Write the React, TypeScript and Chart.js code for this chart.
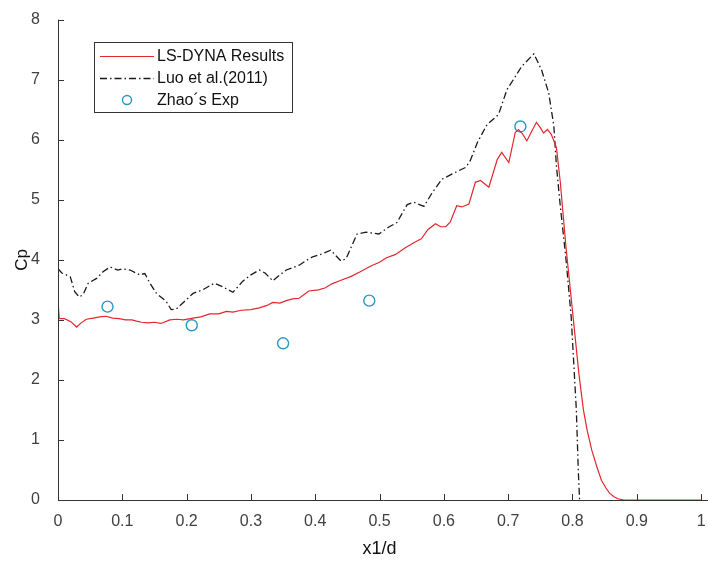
import React, { useEffect, useRef } from "react";
import { Chart, registerables } from "chart.js";

Chart.register(...registerables);

const xTicks = [0, 0.1, 0.2, 0.3, 0.4, 0.5, 0.6, 0.7, 0.8, 0.9, 1];
const yTicks = [0, 1, 2, 3, 4, 5, 6, 7, 8];

const lsDynaX = [
  0, 0.002, 0.01, 0.02, 0.029, 0.036, 0.044, 0.055, 0.065, 0.075, 0.085, 0.095, 0.105, 0.115, 0.122, 0.13,
  0.14, 0.15, 0.16, 0.174, 0.185, 0.195, 0.21, 0.222, 0.236, 0.25, 0.262, 0.272, 0.285, 0.3, 0.313, 0.325,
  0.334, 0.345, 0.355, 0.365, 0.375, 0.39, 0.405, 0.415, 0.426, 0.44, 0.455, 0.47, 0.48, 0.489, 0.5, 0.51,
  0.525, 0.54, 0.556, 0.565, 0.575, 0.587, 0.595, 0.603, 0.61, 0.62, 0.628, 0.639, 0.649, 0.657, 0.67, 0.683,
  0.69, 0.701, 0.711, 0.716, 0.722, 0.729, 0.737, 0.744, 0.75, 0.755, 0.761, 0.767, 0.775, 0.781, 0.79, 0.8,
  0.81, 0.817, 0.823, 0.83, 0.838, 0.845, 0.852, 0.858, 0.865, 0.871, 0.88, 1.0,
];
const lsDynaY = [
  3.3, 3.02, 3.02, 2.97, 2.88, 2.95, 3.01, 3.03, 3.05, 3.06, 3.03, 3.02, 3.0, 3.0, 2.98, 2.96,
  2.95, 2.96, 2.94, 3.0, 3.01, 3.0, 3.03, 3.05, 3.1, 3.1, 3.14, 3.13, 3.16, 3.17, 3.2, 3.24,
  3.29, 3.28, 3.32, 3.35, 3.36, 3.48, 3.5, 3.53, 3.6, 3.66, 3.72, 3.8, 3.86, 3.91, 3.96, 4.03,
  4.09, 4.2, 4.3, 4.35, 4.5, 4.6, 4.55, 4.55, 4.63, 4.9, 4.88, 4.93, 5.29, 5.32, 5.21, 5.67,
  5.79, 5.62, 6.12, 6.17, 6.1, 5.98, 6.15, 6.29, 6.2, 6.11, 6.17, 6.09, 5.87, 5.3, 4.2, 3.15,
  2.1, 1.5, 1.15, 0.83, 0.55, 0.33, 0.2, 0.11, 0.05, 0.02, 0, 0,
];

const luoX = [
  0, 0.006, 0.019, 0.026, 0.033, 0.039, 0.047, 0.06, 0.07, 0.081, 0.093, 0.1, 0.112, 0.127, 0.135, 0.143,
  0.153, 0.168, 0.176, 0.184, 0.197, 0.21, 0.225, 0.243, 0.256, 0.272, 0.287, 0.3, 0.313, 0.322, 0.334, 0.345,
  0.355, 0.375, 0.388, 0.396, 0.406, 0.424, 0.44, 0.448, 0.465, 0.479, 0.499, 0.515, 0.527, 0.543, 0.553, 0.569,
  0.582, 0.597, 0.613, 0.634, 0.641, 0.652, 0.667, 0.685, 0.698, 0.711, 0.721, 0.74, 0.752, 0.763, 0.771, 0.775,
  0.781, 0.79, 0.798, 0.806, 0.809, 0.811,
];
const luoY = [
  3.85, 3.78, 3.72, 3.47, 3.38, 3.42, 3.61, 3.69, 3.8, 3.88, 3.83, 3.85, 3.83, 3.75, 3.77, 3.61,
  3.44, 3.31, 3.17, 3.18, 3.31, 3.44, 3.5, 3.61, 3.55, 3.46, 3.64, 3.75, 3.83, 3.78, 3.65, 3.75,
  3.83, 3.91, 4.0, 4.05, 4.08, 4.16, 3.98, 4.02, 4.43, 4.46, 4.43, 4.55, 4.62, 4.92, 4.96, 4.89,
  5.12, 5.34, 5.43, 5.54, 5.65, 5.95, 6.25, 6.42, 6.83, 7.05, 7.22, 7.43, 7.16, 6.78, 6.23, 5.57,
  4.9, 4.0, 3.05, 1.5, 0.5, 0,
];

const zhaoX = [0.077, 0.208, 0.35, 0.484, 0.719];
const zhaoY = [3.22, 2.91, 2.61, 3.32, 6.22];

const seriesLabels = ["LS-DYNA Results", "Luo et al.(2011)", "Zhao\u00b4s Exp"];

const FONT = "'Liberation Sans', Arial, Helvetica, sans-serif";
const AXIS_COLOR = "#333333";
const TEXT_COLOR = "#404040";
const RED = "#e4262e";
const BLACK = "#1a1a1a";
const BLUE = "#2a97c4";
const DASH = [7, 3, 1.5, 3];

const zip = (xs: number[], ys: number[]) => xs.map((x, i) => ({ x, y: ys[i] }));

const matlabAxes = {
  id: "matlabAxes",
  afterDatasetsDraw(chart: any) {
    const { ctx, chartArea, scales } = chart;
    const xs = scales.x;
    const ys = scales.y;
    ctx.save();
    ctx.strokeStyle = AXIS_COLOR;
    ctx.lineWidth = 1;
    ctx.beginPath();
    ctx.moveTo(chartArea.left + 0.5, chartArea.top);
    ctx.lineTo(chartArea.left + 0.5, chartArea.bottom + 0.5);
    ctx.lineTo(chartArea.right + 10, chartArea.bottom + 0.5);
    for (const t of xTicks) {
      const px = Math.round(xs.getPixelForValue(t)) + 0.5;
      ctx.moveTo(px, chartArea.bottom);
      ctx.lineTo(px, chartArea.bottom - 6);
    }
    for (const t of yTicks) {
      const py = Math.round(ys.getPixelForValue(t)) + 0.5;
      ctx.moveTo(chartArea.left, py);
      ctx.lineTo(chartArea.left + 6, py);
    }
    ctx.stroke();

    // legend
    const bx = 94.5, by = 42.5, bw = 198, bh = 70;
    ctx.fillStyle = "#ffffff";
    ctx.fillRect(bx, by, bw, bh);
    ctx.strokeStyle = AXIS_COLOR;
    ctx.strokeRect(bx, by, bw, bh);
    const rows = [56, 78, 100];
    const ds = chart.data.datasets;
    ctx.font = `16px ${FONT}`;
    ctx.textBaseline = "middle";
    ctx.textAlign = "left";
    ds.forEach((d: any, i: number) => {
      const y = rows[i];
      if (d.showLine) {
        ctx.beginPath();
        ctx.strokeStyle = d.borderColor;
        ctx.lineWidth = d.borderWidth;
        ctx.setLineDash(d.borderDash || []);
        ctx.moveTo(100, y + 0.5);
        ctx.lineTo(154, y + 0.5);
        ctx.stroke();
        ctx.setLineDash([]);
      } else {
        ctx.beginPath();
        ctx.strokeStyle = d.pointBorderColor;
        ctx.lineWidth = d.pointBorderWidth;
        ctx.arc(127, y, 4.5, 0, Math.PI * 2);
        ctx.stroke();
      }
      ctx.fillStyle = "#111111";
      ctx.fillText(d.label, 157, y + 1);
    });
    ctx.restore();
  },
};

export default function App() {
  const ref = useRef<HTMLCanvasElement | null>(null);
  useEffect(() => {
    if (!ref.current) return;
    const chart = new Chart(ref.current, {
      type: "scatter",
      data: {
        datasets: [
          {
            label: seriesLabels[0],
            data: zip(lsDynaX, lsDynaY),
            showLine: true,
            borderColor: RED,
            borderWidth: 1.2,
            pointRadius: 0,
            tension: 0,
          },
          {
            label: seriesLabels[1],
            data: zip(luoX, luoY),
            showLine: true,
            borderColor: BLACK,
            borderWidth: 1.3,
            borderDash: DASH,
            pointRadius: 0,
            tension: 0,
          },
          {
            label: seriesLabels[2],
            data: zip(zhaoX, zhaoY),
            showLine: false,
            pointRadius: 5.5,
            pointBorderWidth: 1.4,
            pointBorderColor: BLUE,
            pointBackgroundColor: "rgba(255,255,255,0)",
            borderColor: BLUE,
            backgroundColor: "rgba(255,255,255,0)",
          },
        ],
      },
      options: {
        animation: false,
        responsive: false,
        layout: { padding: { left: 0, right: 5, top: 16, bottom: 0 } },
        plugins: { legend: { display: false }, tooltip: { enabled: false } },
        scales: {
          x: {
            type: "linear",
            min: 0,
            max: 1,
            afterFit: (s: any) => {
              s.height = 70;
              s.paddingLeft = 0;
              s.paddingRight = 0;
            },
            afterBuildTicks: (s: any) => {
              s.ticks = xTicks.map((v) => ({ value: v }));
            },
            grid: { display: false },
            border: { display: false },
            ticks: {
              padding: 4,
              color: TEXT_COLOR,
              font: { family: FONT, size: 16 },
              maxRotation: 0,
              autoSkip: false,
              callback: (v: any) => String(Number(Number(v).toFixed(1))),
            },
            title: {
              display: true,
              text: "x1/d",
              color: "#111111",
              font: { family: FONT, size: 18 },
              padding: { top: 0, bottom: 10 },
            },
          },
          y: {
            type: "linear",
            min: 0,
            max: 8,
            afterFit: (s: any) => {
              s.width = 58;
            },
            afterBuildTicks: (s: any) => {
              s.ticks = yTicks.map((v) => ({ value: v }));
            },
            grid: { display: false },
            border: { display: false },
            ticks: {
              padding: 10,
              color: TEXT_COLOR,
              font: { family: FONT, size: 16 },
              autoSkip: false,
              callback: (v: any) => String(v),
            },
            title: {
              display: true,
              text: "Cp",
              color: "#111111",
              font: { family: FONT, size: 17 },
              padding: { top: 12, bottom: 0 },
            },
          },
        },
      },
      plugins: [matlabAxes],
    });
    return () => chart.destroy();
  }, []);
  return (
    <div style={{ position: "absolute", left: 0, top: 0, width: 708, height: 570, background: "#fff" }}>
      <canvas ref={ref} width={708} height={570} style={{ display: "block" }} />
    </div>
  );
}
